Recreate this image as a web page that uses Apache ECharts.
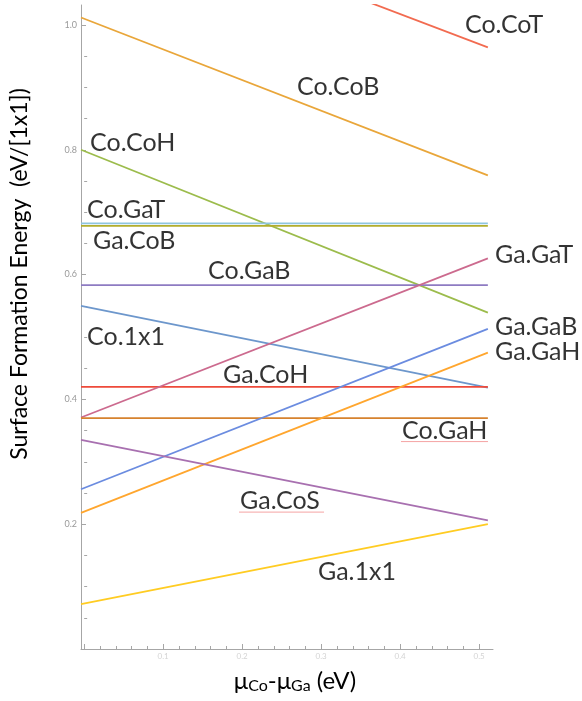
<!DOCTYPE html>
<html>
<head>
<meta charset="utf-8">
<script src="https://cdn.jsdelivr.net/npm/echarts@6/dist/echarts.min.js"></script>
<style>html,body{margin:0;padding:0;background:#fff;}#c{width:582px;height:701px;}</style>
</head>
<body>
<div id="c"></div>
<script>
// ---- data ----
const seriesNames = ['Co.CoT','Co.CoB','Co.CoH','Co.GaT','Ga.CoB','Co.GaB','Co.1x1','Ga.CoH','Ga.GaT','Co.GaH','Ga.GaB','Ga.GaH','Ga.CoS','Ga.1x1'];
const startValues = [1.212, 1.012, 0.800, 0.682, 0.678, 0.583, 0.550, 0.420, 0.371, 0.370, 0.256, 0.218, 0.335, 0.072];
const endValues   = [0.964, 0.759, 0.539, 0.682, 0.678, 0.583, 0.419, 0.420, 0.626, 0.370, 0.513, 0.475, 0.206, 0.200];
const xRange = [-0.004, 0.511];           // mu_Co - mu_Ga span of the lines
const xTickValues = [0, 0.1, 0.2, 0.3, 0.4, 0.5];
const xTickLabels = [0.1, 0.2, 0.3, 0.4, 0.5];
const yTickValues = [0.2, 0.4, 0.6, 0.8, 1.0];
// label anchor points (data coords) for each curve name
const labelNames = ['Co.CoT','Co.CoB','Co.CoH','Co.GaT','Ga.CoB','Co.GaB','Ga.GaT','Co.1x1','Ga.GaB','Ga.GaH','Ga.CoH','Co.GaH','Ga.CoS','Ga.1x1'];
const labelX = [0.482, 0.2694, 0.0074, 0.0036, 0.0112, 0.1568, 0.520, 0.0036, 0.520, 0.520, 0.1757, 0.4023, 0.1973, 0.296];
const labelY = [1.000, 0.9006, 0.811, 0.7035, 0.654, 0.6058, 0.6314, 0.500, 0.516, 0.476, 0.439, 0.350, 0.237, 0.1234];

// ---- styles ----
const colors = ['#f26b50','#e9a63a','#9cbc4c','#8fc5de','#b2ad2c','#8e7bc2','#6d97cc','#ee4a3a','#cc6a8e','#d6822e','#6b8ce0','#ffa62e','#a870b0','#ffcc22'];
const FONT = 'Lato';
const axisGrey = '#a6a6a6';
const yMax = 1.032, xMax = 0.5175;

const yMinor = [];
for (let i = 1; i <= 20; i++) { const v = +(i * 0.05).toFixed(2); if (i % 4 !== 0) yMinor.push(v); }
const xMinor = [];
for (let i = 0; i <= 25; i++) { const v = +(i * 0.02).toFixed(2); if (i % 5 !== 0) xMinor.push(v); }

const chart = echarts.init(document.getElementById('c'), null, {renderer: 'canvas'});

const lineSeries = seriesNames.map((n, i) => ({
  name: n, type: 'line', xAxisIndex: 0, yAxisIndex: 0,
  data: [[xRange[0], startValues[i]], [xRange[1], endValues[i]]],
  symbol: 'none', clip: true, silent: true,
  lineStyle: {color: colors[i], width: 1.8},
  z: 3
}));

const labelSeries = {
  type: 'scatter', xAxisIndex: 0, yAxisIndex: 0, clip: false, symbolSize: 0, silent: true,
  data: labelNames.map((n, i) => ({value: [labelX[i], labelY[i]], name: n})),
  label: {show: true, position: [0, 0], align: 'left', verticalAlign: 'middle',
    formatter: p => p.name, color: '#000', fontFamily: FONT, fontSize: 25},
  z: 10
};

const option = {
  animation: false,
  backgroundColor: '#fff',
  grid: {left: 81, right: 89, top: 5, bottom: 52, containLabel: false, outerBoundsMode: 'none'},
  xAxis: [
    {type: 'value', min: xRange[0], max: xMax,
     name: '{mu|μ}{sub|Co}{mu|-μ}{sub|Ga}{mu| (eV)}', nameLocation: 'middle', nameGap: 18,
     nameTextStyle: {padding: [0, 0, 0, 16], rich: {
       mu: {fontFamily: FONT, fontSize: 24, color: '#000', lineHeight: 28},
       sub: {fontFamily: FONT, fontSize: 16, color: '#000', padding: [10, 0, 0, 0]}
     }},
     axisLine: {show: true, onZero: false, lineStyle: {color: axisGrey, width: 1}},
     axisTick: {show: true, inside: true, length: 5, customValues: xTickValues, lineStyle: {color: axisGrey}},
     axisLabel: {show: true, customValues: xTickLabels, color: '#d4d4d4', fontSize: 8, margin: 3, fontFamily: FONT},
     splitLine: {show: false}},
    {type: 'value', min: xRange[0], max: xMax, position: 'bottom',
     axisLine: {show: false},
     axisTick: {show: true, inside: true, length: 3, customValues: xMinor, lineStyle: {color: axisGrey}},
     axisLabel: {show: false}, splitLine: {show: false}}
  ],
  yAxis: [
    {type: 'value', min: 0, max: yMax,
     name: 'Surface Formation Energy  (eV/[1x1])', nameLocation: 'middle', nameGap: 50, nameRotate: 90,
     nameTextStyle: {fontFamily: FONT, fontSize: 23, color: '#000', padding: [0, 0, 0, 106]},
     axisLine: {show: true, onZero: false, lineStyle: {color: axisGrey, width: 1}},
     axisTick: {show: true, inside: true, length: 5, customValues: yTickValues, lineStyle: {color: axisGrey}},
     axisLabel: {show: true, customValues: yTickValues, color: '#9a9a9a', fontSize: 9, margin: 4, fontFamily: FONT,
       formatter: v => v.toFixed(1)},
     splitLine: {show: false}},
    {type: 'value', min: 0, max: yMax, position: 'left',
     axisLine: {show: false},
     axisTick: {show: true, inside: true, length: 3, customValues: yMinor, lineStyle: {color: axisGrey}},
     axisLabel: {show: false}, splitLine: {show: false}}
  ],
  series: lineSeries.concat([labelSeries])
};
chart.setOption(option);

// spell-check style underlines beneath two labels, placed from the label anchors
function underline(name, widthPx) {
  const i = labelNames.indexOf(name);
  const p = chart.convertToPixel({xAxisIndex: 0, yAxisIndex: 0}, [labelX[i], labelY[i]]);
  return {type: 'line', shape: {x1: p[0] - 1, y1: p[1] + 11, x2: p[0] + widthPx, y2: p[1] + 11},
          style: {stroke: '#f5a3a3', lineWidth: 1}, silent: true, z: 20};
}
chart.setOption({graphic: [underline('Co.GaH', 86), underline('Ga.CoS', 84)]});
</script>
</body>
</html>
